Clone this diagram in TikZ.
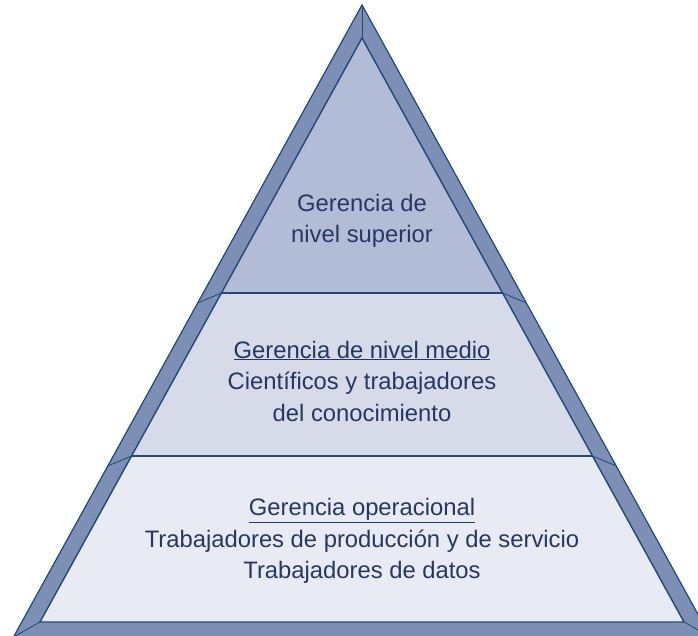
\documentclass[tikz,border=0pt]{standalone}
\usepackage{fontspec}
\setmainfont{Liberation Sans}
\usepackage{tikz}
\usetikzlibrary{calc,positioning}
\definecolor{marco}{RGB}{125,143,181}
\definecolor{borde}{RGB}{32,72,122}
\definecolor{nivA}{RGB}{179,188,214}
\definecolor{nivB}{RGB}{214,218,233}
\definecolor{nivC}{RGB}{232,235,244}
\definecolor{letra}{RGB}{38,55,98}
\tikzset{
  frame/.style={draw=borde,fill=marco,line width=1.2pt,line join=miter},
  level/.style={draw=none},
  sep/.style={draw=borde,line width=1.4pt},
  bevel/.style={draw=borde,line width=0.8pt},
  rotulo/.style={text=letra,align=center,font=\fontsize{23.8}{31.5}\selectfont,inner sep=0pt},
}
\newcommand{\subr}[1]{\underline{#1}}

\begin{document}
\begin{tikzpicture}[x=1pt,y=-1pt]
  \useasboundingbox (0,0) rectangle (698,636);
  % outer frame
  \coordinate (apex) at (362,5);
  \coordinate (oL) at (13.5,637);
  \coordinate (oR) at (710.5,637);
  % inner triangle
  \coordinate (iA) at (362,38);
  \coordinate (iL) at (40,622);
  \coordinate (iR) at (684,622);
  \coordinate (a1) at (221.5,293);
  \coordinate (b1) at (502.5,293);
  \coordinate (a2) at (131.7,456);
  \coordinate (b2) at (592.3,456);
  \coordinate (oa1) at (197.5,303);
  \coordinate (ob1) at (526.5,303);
  \coordinate (oa2) at (107.5,466);
  \coordinate (ob2) at (616.5,466);
  \path[frame] (apex) -- (oR) -- (oL) -- cycle;
  % levels
  \path[level,fill=nivA] (iA) -- (b1) -- (a1) -- cycle;
  \path[level,fill=nivB] (a1) -- (b1) -- (b2) -- (a2) -- cycle;
  \path[level,fill=nivC] (a2) -- (b2) -- (iR) -- (iL) -- cycle;
  \draw[sep] (iA) -- (iR) -- (iL) -- cycle;
  \draw[sep] (a1) -- (b1);
  \draw[sep] (a2) -- (b2);
  \draw[bevel] (apex) -- (iA);
  \draw[bevel] (a1) -- (oa1);
  \draw[bevel] (b1) -- (ob1);
  \draw[bevel] (a2) -- (oa2);
  \draw[bevel] (b2) -- (ob2);
  \draw[bevel] (iL) -- (oL);
  \draw[bevel] (iR) -- (oR);
  % texts
  \node[rotulo] (top) at (362,221) {Gerencia de\\nivel superior};
  \node[rotulo] (mid) at (362,381) {\subr{Gerencia de nivel medio}\\Científicos y trabajadores\\del conocimiento};
  \node[rotulo] (bot) at (362,541) {\subr{Gerencia operacional}\\Trabajadores de producción y de servicio\\Trabajadores de datos};
\end{tikzpicture}
\end{document}
